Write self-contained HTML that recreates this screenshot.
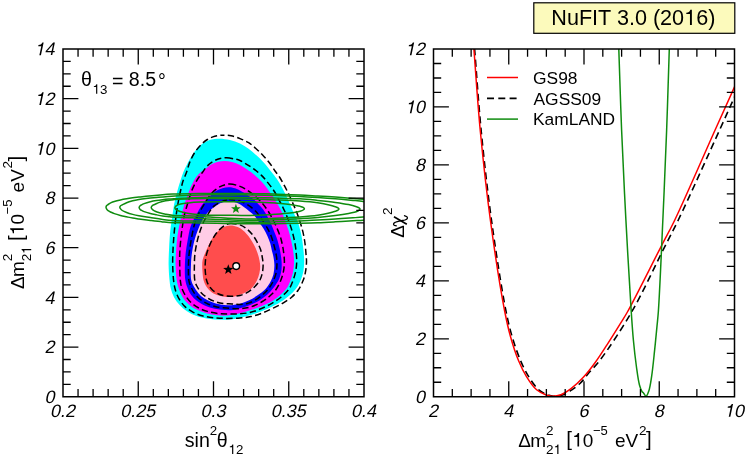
<!DOCTYPE html>
<html><head><meta charset="utf-8"><title>NuFIT 3.0 (2016)</title>
<style>html,body{margin:0;padding:0;background:#fff;}svg{display:block;}text{font-family:"Liberation Sans",sans-serif;fill:#000;}</style>
</head><body>
<svg width="747" height="456" viewBox="0 0 747 456" style="will-change:transform">
<rect x="0" y="0" width="747" height="456" fill="#fff"/>
<defs><clipPath id="cl"><rect x="63.00" y="49.00" width="301.00" height="347.75"/></clipPath>
<clipPath id="cr"><rect x="433.50" y="49.00" width="301.00" height="347.75"/></clipPath></defs>
<g clip-path="url(#cl)">
<path d="M219.50 138.70C222.93 138.69 226.50 139.31 229.90 140.10C233.33 140.90 236.84 142.04 240.00 143.50C243.07 144.92 245.91 146.76 248.60 148.70C251.27 150.63 253.63 152.83 256.10 155.10C258.67 157.46 261.22 159.89 263.70 162.60C266.36 165.50 269.20 169.12 271.50 172.00C273.40 174.38 274.95 176.21 276.60 178.60C278.42 181.23 280.28 184.30 281.90 187.20C283.48 190.03 284.80 192.83 286.20 195.80C287.67 198.92 289.07 202.27 290.50 205.50C291.93 208.73 293.44 212.12 294.80 215.20C296.03 217.99 297.37 220.55 298.30 223.20C299.17 225.68 299.70 228.13 300.30 230.60C300.90 233.03 301.47 235.46 301.90 237.90C302.33 240.32 302.60 242.76 302.90 245.20C303.20 247.63 303.49 249.94 303.70 252.50C303.93 255.34 304.24 258.45 304.20 261.50C304.16 264.67 303.98 268.07 303.40 271.20C302.83 274.23 301.95 277.19 300.80 280.00C299.65 282.79 298.13 285.67 296.50 288.00C295.03 290.10 293.55 291.64 291.60 293.50C289.21 295.79 286.12 298.38 283.00 300.50C279.72 302.73 275.92 304.70 272.30 306.50C268.75 308.26 265.12 309.77 261.50 311.20C257.95 312.60 254.40 313.90 250.80 315.00C247.23 316.09 243.45 317.05 240.00 317.80C236.88 318.48 234.15 319.06 231.00 319.40C227.58 319.77 223.88 319.90 220.20 319.80C216.35 319.69 212.31 319.33 208.40 318.70C204.45 318.07 200.27 317.31 196.60 316.00C193.13 314.76 189.82 313.14 186.90 311.20C184.11 309.34 181.58 307.08 179.40 304.70C177.30 302.40 175.43 299.89 174.00 297.20C172.57 294.52 171.55 291.51 170.80 288.60C170.07 285.77 169.84 283.29 169.50 280.00C169.04 275.60 168.68 269.58 168.60 264.50C168.53 259.59 168.81 254.67 169.00 250.00C169.18 245.63 169.38 241.36 169.70 237.30C169.99 233.55 170.35 230.09 170.80 226.50C171.25 222.92 171.87 219.38 172.40 215.80C172.93 212.21 173.27 208.78 174.00 205.00C174.82 200.73 176.07 195.72 177.20 191.50C178.21 187.71 179.32 184.18 180.40 180.80C181.39 177.71 182.27 174.75 183.40 172.00C184.45 169.45 185.57 167.36 186.90 164.80C188.47 161.79 190.40 158.01 192.30 155.10C193.99 152.51 195.72 150.13 197.60 148.10C199.31 146.25 201.02 144.63 203.00 143.30C204.98 141.97 207.03 140.86 209.50 140.10C212.41 139.20 216.13 138.71 219.50 138.70Z" fill="#00ffff"/>
<path d="M224.50 161.00C226.90 161.03 229.49 161.47 232.00 162.10C234.66 162.77 237.53 163.79 240.00 165.00C242.35 166.15 244.33 167.64 246.50 169.10C248.76 170.63 250.87 171.97 253.30 174.00C256.49 176.66 260.77 180.67 263.70 184.00C266.23 186.87 268.43 190.39 270.10 192.60C271.15 194.00 271.81 194.71 272.70 196.00C273.79 197.57 274.99 199.52 276.10 201.40C277.26 203.38 278.43 205.60 279.50 207.60C280.49 209.46 281.42 210.99 282.30 213.00C283.34 215.38 284.20 218.21 285.20 221.00C286.29 224.05 287.66 227.60 288.60 230.60C289.41 233.18 290.00 235.46 290.60 237.90C291.20 240.33 291.73 242.76 292.20 245.20C292.67 247.63 293.09 249.93 293.40 252.50C293.74 255.34 294.12 258.44 294.10 261.50C294.08 264.67 293.80 268.03 293.20 271.20C292.60 274.36 291.56 277.66 290.50 280.50C289.56 283.04 288.77 285.28 287.30 287.50C285.67 289.97 283.30 292.31 280.90 294.50C278.34 296.83 275.43 299.07 272.30 301.00C268.99 303.03 265.14 304.77 261.50 306.30C257.97 307.79 254.39 308.93 250.80 310.10C247.22 311.26 243.74 312.41 240.00 313.30C236.06 314.23 231.67 315.18 227.70 315.50C224.02 315.79 220.56 315.66 217.00 315.30C213.39 314.93 209.65 314.28 206.20 313.30C202.86 312.36 199.58 311.15 196.60 309.60C193.70 308.10 190.86 306.31 188.50 304.20C186.21 302.16 184.21 299.78 182.60 297.20C180.97 294.59 179.79 291.51 178.80 288.60C177.84 285.78 177.22 283.31 176.70 280.00C176.01 275.61 175.70 269.39 175.60 264.50C175.51 260.11 175.74 256.33 176.00 252.00C176.28 247.29 176.73 241.81 177.30 237.30C177.80 233.41 178.40 230.08 179.10 226.50C179.80 222.92 180.68 219.33 181.50 215.80C182.31 212.33 183.06 208.76 184.00 205.50C184.87 202.48 185.79 199.91 186.90 196.90C188.15 193.49 189.56 189.54 191.20 186.10C192.80 182.75 194.66 179.08 196.60 176.50C198.15 174.44 199.91 172.80 201.50 171.50C202.76 170.47 203.82 170.07 205.20 169.10C207.07 167.78 209.36 165.43 211.60 164.20C213.68 163.06 215.91 162.33 218.10 161.80C220.21 161.29 222.28 160.98 224.50 161.00Z" fill="#ff00ff"/>
<path d="M228.80 187.20C230.88 187.21 233.08 187.72 235.00 188.30C236.79 188.84 238.13 189.52 240.00 190.50C242.58 191.86 246.32 194.25 248.90 196.00C250.99 197.42 252.76 198.67 254.40 200.10C255.90 201.41 257.02 202.72 258.40 204.20C259.95 205.86 261.80 207.74 263.20 209.60C264.51 211.35 265.50 213.09 266.60 215.00C267.78 217.04 268.90 219.18 270.00 221.50C271.21 224.05 272.40 227.04 273.50 229.70C274.53 232.20 275.53 234.47 276.40 237.00C277.31 239.63 278.12 242.53 278.80 245.20C279.44 247.69 279.95 249.93 280.40 252.50C280.90 255.33 281.44 258.53 281.60 261.50C281.76 264.39 281.79 267.26 281.40 270.10C281.00 272.99 280.42 275.86 279.20 278.70C277.84 281.87 275.44 285.28 273.30 288.10C271.32 290.70 269.24 293.04 266.90 295.10C264.60 297.13 262.05 298.81 259.40 300.40C256.69 302.02 253.88 303.44 250.80 304.70C247.45 306.07 243.21 307.28 240.00 308.20C237.46 308.92 235.55 309.57 233.10 309.90C230.41 310.26 227.45 310.26 224.50 310.10C221.36 309.93 218.00 309.51 214.80 308.80C211.56 308.08 208.19 307.13 205.20 305.80C202.31 304.51 199.49 302.85 197.10 301.00C194.85 299.26 192.81 297.34 191.20 295.10C189.57 292.84 188.39 290.07 187.40 287.50C186.45 285.04 185.75 282.98 185.30 280.00C184.67 275.79 184.79 269.39 184.90 264.50C185.00 260.11 185.33 256.11 185.80 252.00C186.27 247.95 186.93 244.11 187.70 240.00C188.52 235.62 189.17 230.66 190.60 226.50C191.93 222.64 193.92 219.34 195.80 215.80C197.72 212.18 200.14 207.54 202.00 205.00C203.15 203.43 204.00 202.81 205.20 201.50C206.74 199.83 208.68 197.58 210.50 195.80C212.25 194.09 213.90 192.25 215.90 191.00C217.87 189.76 220.21 188.94 222.40 188.30C224.51 187.69 226.68 187.19 228.80 187.20Z" fill="#0000ff"/>
<path d="M228.40 201.50C230.89 201.44 233.61 201.72 236.00 202.50C238.41 203.28 240.59 204.74 242.80 206.20C245.14 207.75 247.49 209.82 249.60 211.60C251.53 213.22 253.36 214.55 255.00 216.40C256.75 218.38 258.18 221.04 259.70 223.20C261.10 225.19 262.54 226.83 263.80 228.90C265.16 231.14 266.41 233.74 267.50 236.20C268.57 238.61 269.56 241.04 270.30 243.50C271.02 245.91 271.35 248.45 271.90 250.80C272.42 253.01 273.09 254.89 273.50 257.20C273.97 259.84 274.42 262.93 274.40 265.80C274.38 268.67 274.07 271.71 273.40 274.40C272.77 276.92 271.83 279.17 270.60 281.50C269.26 284.04 267.61 286.72 265.50 289.00C263.22 291.46 260.07 293.67 257.20 295.60C254.43 297.46 251.52 299.04 248.60 300.40C245.78 301.72 243.10 302.89 240.00 303.70C236.56 304.59 232.29 305.21 228.80 305.30C225.75 305.37 223.04 305.04 220.20 304.50C217.31 303.95 214.32 303.06 211.60 302.00C208.97 300.98 206.35 299.84 204.10 298.30C201.90 296.79 199.91 294.89 198.20 292.90C196.52 290.95 195.08 288.70 193.90 286.50C192.77 284.40 191.76 282.70 191.20 280.00C190.38 276.00 190.85 269.16 191.00 264.50C191.12 260.66 191.30 257.70 191.80 254.00C192.37 249.77 193.33 244.60 194.40 240.50C195.32 236.97 196.37 234.00 197.60 230.80C198.86 227.54 200.22 224.14 201.90 221.10C203.53 218.15 205.31 215.21 207.50 212.80C209.63 210.46 212.38 208.53 214.80 206.80C216.98 205.25 219.00 203.68 221.30 202.80C223.54 201.94 225.99 201.56 228.40 201.50Z" fill="#ffcce6"/>
<path d="M230.20 225.40C232.62 225.37 235.45 226.07 237.70 227.00C239.82 227.88 241.59 229.17 243.40 230.70C245.41 232.40 247.38 234.65 249.10 236.90C250.86 239.21 252.41 241.77 253.80 244.40C255.22 247.09 256.52 250.06 257.50 252.90C258.43 255.60 259.15 258.55 259.60 261.00C259.97 263.00 260.21 264.57 260.20 266.50C260.19 268.65 259.92 271.03 259.40 273.30C258.85 275.70 258.08 278.15 256.90 280.50C255.61 283.06 253.71 286.04 251.80 288.00C250.18 289.66 248.41 290.69 246.50 291.80C244.49 292.97 242.23 293.98 240.00 294.80C237.77 295.62 235.55 296.37 233.10 296.70C230.41 297.06 227.25 296.99 224.50 296.70C221.90 296.43 219.34 296.01 217.00 295.10C214.68 294.20 212.38 292.91 210.50 291.30C208.61 289.68 206.89 287.41 205.70 285.40C204.66 283.64 204.03 282.02 203.50 280.00C202.88 277.63 202.72 274.58 202.50 272.00C202.30 269.59 202.16 267.14 202.20 265.00C202.23 263.19 202.21 261.78 202.60 260.00C203.08 257.81 204.20 255.36 205.20 252.90C206.31 250.18 207.64 247.12 209.00 244.40C210.31 241.79 211.65 239.17 213.20 236.90C214.64 234.80 216.14 232.86 217.90 231.20C219.62 229.57 221.53 227.97 223.60 227.00C225.63 226.05 227.93 225.43 230.20 225.40Z" fill="#ff4d4d"/>
<path d="M222.40 135.20C225.17 135.10 228.13 135.26 231.00 135.80C234.00 136.36 237.07 137.45 240.00 138.60C242.94 139.75 245.92 141.02 248.60 142.70C251.29 144.39 253.65 146.52 256.10 148.70C258.69 151.00 261.33 153.65 263.70 156.20C265.98 158.65 268.15 161.15 270.10 163.70C271.97 166.15 273.52 168.82 275.20 171.20C276.75 173.41 278.28 175.12 279.80 177.50C281.62 180.34 283.53 184.05 285.20 187.20C286.75 190.14 288.10 192.83 289.50 195.80C290.97 198.92 292.48 202.47 293.80 205.50C294.96 208.16 295.95 210.23 297.00 213.00C298.26 216.32 299.67 220.78 300.70 224.10C301.53 226.78 302.19 228.89 302.80 231.40C303.43 234.02 303.96 236.86 304.40 239.50C304.82 241.99 305.13 244.36 305.40 246.80C305.67 249.23 305.82 251.66 306.00 254.10C306.18 256.56 306.53 258.87 306.50 261.50C306.46 264.52 306.14 268.08 305.60 271.20C305.08 274.17 304.51 276.86 303.40 279.80C302.13 283.17 300.20 287.20 298.10 290.20C296.20 292.91 294.05 295.09 291.60 297.20C289.04 299.41 286.09 301.27 283.00 303.10C279.69 305.06 275.90 306.79 272.30 308.50C268.73 310.19 265.13 311.94 261.50 313.30C257.96 314.63 254.41 315.82 250.80 316.60C247.24 317.37 243.93 317.70 240.00 318.00C235.31 318.36 229.19 318.47 224.50 318.40C220.60 318.34 217.36 318.20 213.80 317.80C210.20 317.40 206.46 316.94 203.00 316.00C199.63 315.09 196.30 313.86 193.30 312.30C190.41 310.80 187.62 309.06 185.30 306.90C182.99 304.75 181.02 302.09 179.40 299.40C177.79 296.73 176.54 293.72 175.60 290.80C174.69 287.98 174.26 285.60 173.80 282.20C173.15 277.37 172.82 270.11 172.70 264.50C172.60 259.43 172.80 254.67 173.00 250.00C173.18 245.62 173.48 241.36 173.80 237.30C174.09 233.55 174.42 230.09 174.80 226.50C175.18 222.92 175.62 219.37 176.10 215.80C176.58 212.21 177.04 208.79 177.70 205.00C178.44 200.74 179.44 195.73 180.40 191.50C181.26 187.72 182.01 184.16 183.10 180.80C184.11 177.69 185.53 175.00 186.60 172.00C187.70 168.94 188.34 165.70 189.60 162.60C190.92 159.37 192.50 155.97 194.40 153.00C196.27 150.08 198.62 147.23 200.90 144.90C202.94 142.80 204.97 140.94 207.30 139.50C209.60 138.08 212.24 137.02 214.80 136.30C217.28 135.60 219.78 135.30 222.40 135.20Z" fill="none" stroke="#000" stroke-width="1.50" stroke-dasharray="6.4 3.3" stroke-dashoffset="4.30"/>
<path d="M226.70 157.80C229.11 157.85 231.87 158.41 234.20 158.90C236.27 159.34 238.00 159.67 240.00 160.50C242.40 161.50 245.11 163.33 247.50 164.80C249.77 166.20 251.80 167.46 254.00 169.10C256.46 170.94 259.17 173.11 261.50 175.40C263.84 177.71 265.89 180.27 268.00 182.90C270.19 185.63 272.73 188.84 274.40 191.50C275.72 193.60 276.34 195.24 277.50 197.40C278.92 200.05 280.90 203.44 282.30 206.20C283.51 208.59 284.40 210.44 285.50 213.00C286.88 216.23 288.61 220.77 289.80 224.10C290.76 226.77 291.48 228.89 292.20 231.40C292.95 234.02 293.64 236.86 294.20 239.50C294.73 241.99 295.15 244.36 295.50 246.80C295.85 249.23 296.10 251.66 296.30 254.10C296.50 256.56 296.76 258.87 296.70 261.50C296.63 264.52 296.32 268.03 295.70 271.20C295.08 274.36 294.13 277.51 293.00 280.50C291.89 283.44 290.86 286.34 289.00 289.00C286.94 291.95 283.76 294.81 280.90 297.20C278.18 299.48 275.40 301.27 272.30 303.10C268.97 305.06 265.14 306.95 261.50 308.50C257.97 310.00 254.42 311.42 250.80 312.30C247.25 313.17 243.64 313.53 240.00 313.80C236.31 314.07 232.49 313.95 228.80 313.90C225.19 313.85 221.66 313.91 218.10 313.50C214.49 313.08 210.65 312.38 207.30 311.40C204.23 310.50 201.38 309.47 198.70 308.00C196.02 306.53 193.38 304.64 191.20 302.60C189.11 300.65 187.33 298.44 185.80 296.10C184.27 293.77 182.90 291.16 182.00 288.60C181.14 286.15 180.78 284.11 180.40 281.10C179.84 276.67 179.79 269.64 179.70 264.50C179.62 260.04 179.61 256.33 179.80 252.00C180.01 247.29 180.52 241.82 181.00 237.30C181.41 233.42 181.87 230.09 182.40 226.50C182.93 222.92 183.46 219.18 184.20 215.80C184.88 212.71 185.78 209.86 186.60 207.00C187.38 204.26 188.11 201.78 189.00 199.00C189.99 195.94 191.01 192.47 192.30 189.40C193.55 186.41 194.94 183.60 196.60 180.80C198.32 177.90 200.61 174.92 202.50 172.30C204.16 170.00 205.43 167.78 207.30 165.90C209.19 164.01 211.55 162.25 213.80 161.00C215.86 159.85 218.02 159.03 220.20 158.50C222.32 157.98 224.46 157.76 226.70 157.80Z" fill="none" stroke="#000" stroke-width="1.50" stroke-dasharray="6.4 3.3" stroke-dashoffset="0.00"/>
<path d="M229.90 184.00C233.02 184.04 236.95 185.25 240.00 186.40C242.76 187.44 245.01 188.80 247.50 190.40C250.25 192.17 253.16 194.47 255.70 196.70C258.15 198.85 260.44 201.09 262.50 203.50C264.53 205.87 266.30 208.40 268.00 211.00C269.70 213.60 271.41 216.71 272.70 219.10C273.70 220.95 274.37 222.31 275.20 224.10C276.14 226.11 277.13 228.43 278.00 230.60C278.86 232.73 279.71 234.84 280.40 237.00C281.08 239.14 281.62 241.32 282.10 243.50C282.58 245.66 282.95 247.52 283.30 250.00C283.76 253.28 284.39 257.83 284.40 261.50C284.40 264.87 284.12 268.03 283.50 271.20C282.88 274.36 281.97 277.43 280.70 280.50C279.35 283.77 277.57 287.42 275.50 290.20C273.61 292.74 271.33 294.73 269.00 296.70C266.67 298.67 264.31 300.39 261.50 302.00C258.32 303.83 254.45 305.80 250.80 306.90C247.28 307.96 243.80 308.39 240.00 308.60C235.81 308.83 230.78 308.32 226.70 308.00C223.21 307.72 220.11 307.56 217.00 306.90C214.02 306.27 211.11 305.38 208.40 304.20C205.75 303.04 203.16 301.62 200.90 299.90C198.67 298.21 196.54 296.14 194.90 294.00C193.35 291.99 192.20 289.71 191.20 287.50C190.25 285.40 189.49 283.78 189.00 281.10C188.23 276.90 188.41 269.64 188.50 264.50C188.58 260.04 188.84 256.11 189.30 252.00C189.75 247.95 190.46 244.11 191.20 240.00C191.98 235.62 192.76 230.70 193.90 226.50C194.93 222.69 196.31 218.70 197.60 215.80C198.54 213.68 199.47 212.30 200.50 210.50C201.59 208.60 202.70 206.84 204.00 204.70C205.62 202.05 207.43 198.42 209.50 195.80C211.43 193.37 213.64 191.14 215.90 189.40C217.96 187.81 220.08 186.50 222.40 185.60C224.74 184.69 227.22 183.97 229.90 184.00Z" fill="none" stroke="#000" stroke-width="1.50" stroke-dasharray="6.4 3.3" stroke-dashoffset="0.00"/>
<path d="M228.80 199.60C231.28 199.34 233.55 199.81 236.00 200.30C238.67 200.83 242.00 201.82 244.20 202.80C245.82 203.52 246.88 204.32 248.20 205.20C249.58 206.12 251.02 207.16 252.30 208.20C253.51 209.19 254.56 210.09 255.70 211.30C257.06 212.75 258.38 214.45 259.80 216.40C261.58 218.84 263.81 222.33 265.40 224.90C266.68 226.97 267.70 228.62 268.70 230.60C269.73 232.64 270.70 234.84 271.50 237.00C272.29 239.14 272.88 241.33 273.50 243.50C274.11 245.66 274.69 247.77 275.20 250.00C275.73 252.33 276.31 254.68 276.60 257.20C276.91 259.93 277.02 263.04 276.90 265.80C276.79 268.39 276.58 270.82 276.00 273.30C275.40 275.86 274.35 278.60 273.30 280.90C272.36 282.95 271.41 284.63 270.10 286.50C268.61 288.63 266.76 290.91 264.70 292.90C262.50 295.03 259.88 297.10 257.20 298.80C254.51 300.50 251.54 302.15 248.60 303.10C245.80 304.00 242.82 304.38 240.00 304.50C237.29 304.62 234.72 304.08 232.00 303.90C229.19 303.71 226.25 303.80 223.40 303.40C220.52 303.00 217.51 302.47 214.80 301.50C212.15 300.55 209.58 299.18 207.30 297.70C205.13 296.29 203.10 294.76 201.40 292.90C199.69 291.03 198.22 288.60 197.10 286.50C196.13 284.67 195.40 283.45 194.90 281.10C194.06 277.13 194.36 269.40 194.40 264.50C194.43 260.60 194.49 257.63 194.90 254.00C195.35 250.02 196.22 245.46 197.10 241.60C197.88 238.15 198.79 235.02 199.80 231.90C200.77 228.93 201.66 226.20 203.00 223.30C204.47 220.11 206.51 216.58 208.40 213.60C210.12 210.89 211.70 208.03 213.80 206.10C215.69 204.37 217.84 203.35 220.20 202.30C222.79 201.14 226.03 199.89 228.80 199.60Z" fill="none" stroke="#000" stroke-width="1.50" stroke-dasharray="6.4 3.3" stroke-dashoffset="0.00"/>
<path d="M230.20 223.50C233.12 223.23 237.74 224.08 240.60 225.10C242.84 225.90 244.41 227.02 246.20 228.40C248.19 229.93 250.19 231.92 251.90 234.00C253.67 236.14 255.19 238.61 256.60 241.10C258.03 243.64 259.43 246.26 260.40 249.10C261.42 252.08 262.05 255.64 262.50 258.60C262.89 261.15 263.16 263.30 263.10 265.80C263.04 268.54 262.68 271.76 262.00 274.40C261.39 276.79 260.68 278.89 259.40 281.00C257.96 283.38 255.67 285.80 253.50 287.80C251.37 289.76 248.88 291.61 246.50 292.90C244.37 294.06 242.14 294.87 240.00 295.40C238.04 295.89 236.33 296.00 234.20 296.10C231.62 296.23 228.30 296.29 225.60 295.90C223.12 295.54 220.76 294.96 218.60 294.00C216.47 293.05 214.40 291.74 212.70 290.20C211.01 288.67 209.46 286.63 208.40 284.80C207.49 283.22 207.00 281.93 206.50 280.00C205.80 277.31 205.38 272.84 205.20 270.00C205.06 267.90 205.12 266.44 205.20 264.50C205.29 262.33 205.41 259.86 205.80 257.60C206.18 255.36 206.78 253.25 207.50 251.00C208.28 248.56 209.28 245.93 210.40 243.50C211.52 241.07 212.76 238.62 214.20 236.40C215.60 234.23 217.16 232.13 218.90 230.30C220.60 228.51 222.51 226.65 224.50 225.50C226.30 224.46 227.99 223.71 230.20 223.50Z" fill="none" stroke="#000" stroke-width="1.50" stroke-dasharray="6.4 3.3" stroke-dashoffset="0.00"/>
<path d="M106.00 207.30C106.00 206.70 106.33 205.97 106.70 205.50C107.05 205.05 107.53 204.87 108.10 204.50C108.92 203.97 110.15 203.21 111.20 202.70C112.21 202.21 113.08 201.89 114.30 201.50C115.98 200.96 118.35 200.37 120.40 199.90C122.45 199.43 124.54 199.05 126.60 198.70C128.64 198.35 130.66 198.07 132.70 197.80C134.76 197.53 136.76 197.34 138.90 197.10C141.19 196.84 143.34 196.58 146.00 196.30C149.41 195.95 153.54 195.55 157.70 195.20C162.46 194.81 167.18 194.37 173.00 194.10C180.73 193.74 191.17 193.62 200.00 193.50C208.49 193.39 216.67 193.38 225.00 193.40C233.33 193.42 241.67 193.48 250.00 193.60C258.33 193.72 266.67 193.88 275.00 194.10C283.33 194.32 292.39 194.54 300.00 194.90C306.41 195.20 311.81 195.63 317.70 196.00C323.58 196.37 329.43 196.70 335.30 197.10C341.19 197.50 347.91 197.99 353.00 198.40C356.87 198.71 359.38 198.90 363.20 199.30C368.11 199.81 374.58 200.40 380.00 201.30C385.16 202.16 391.09 202.71 395.00 204.50C397.96 205.85 402.01 208.05 402.00 209.80C401.99 211.55 397.95 213.67 395.00 215.00C391.09 216.77 385.16 217.34 380.00 218.20C374.58 219.10 368.11 219.79 363.20 220.20C359.38 220.52 356.86 220.49 353.00 220.70C347.91 220.98 341.19 221.47 335.30 221.80C329.43 222.13 323.58 222.47 317.70 222.70C311.81 222.93 306.41 223.05 300.00 223.20C292.38 223.38 283.33 223.60 275.00 223.70C266.67 223.80 258.33 223.85 250.00 223.80C241.67 223.75 233.33 223.55 225.00 223.40C216.67 223.25 208.49 223.02 200.00 222.90C191.17 222.78 179.89 222.99 173.00 222.70C168.72 222.52 166.21 222.24 162.60 221.90C158.67 221.53 154.32 220.99 150.30 220.50C146.43 220.02 142.12 219.45 138.90 219.00C136.52 218.67 134.75 218.47 132.70 218.10C130.65 217.73 128.64 217.25 126.60 216.80C124.54 216.35 122.45 215.93 120.40 215.40C118.35 214.87 115.98 214.20 114.30 213.60C113.08 213.17 112.22 212.78 111.20 212.30C110.16 211.81 108.89 211.32 108.10 210.70C107.48 210.22 107.05 209.68 106.70 209.10C106.36 208.54 106.00 207.90 106.00 207.30Z" fill="none" stroke="#0f8c0f" stroke-width="1.50"/>
<path d="M119.80 207.30C119.80 206.77 120.20 206.11 120.60 205.70C121.02 205.27 121.60 205.16 122.30 204.80C123.40 204.24 125.01 203.32 126.60 202.70C128.43 201.98 130.65 201.37 132.70 200.85C134.75 200.33 136.76 199.97 138.90 199.60C141.18 199.21 143.41 198.92 146.00 198.60C149.13 198.21 152.44 197.88 156.40 197.50C161.68 196.99 168.26 196.32 174.90 195.90C182.62 195.41 191.64 195.07 200.00 194.90C208.34 194.73 216.67 194.90 225.00 194.90C233.33 194.90 241.67 194.82 250.00 194.90C258.33 194.98 266.67 195.15 275.00 195.40C283.33 195.65 292.39 196.01 300.00 196.40C306.41 196.73 311.81 197.10 317.70 197.50C323.58 197.90 329.43 198.32 335.30 198.80C341.19 199.28 347.91 199.90 353.00 200.40C356.87 200.78 359.68 201.01 363.20 201.50C367.00 202.03 371.48 202.61 375.00 203.50C377.96 204.24 381.08 204.94 383.00 206.20C384.39 207.11 386.03 208.44 386.00 209.50C385.98 210.54 384.37 211.67 383.00 212.50C381.07 213.67 377.95 214.30 375.00 215.00C371.47 215.83 367.00 216.43 363.20 216.90C359.68 217.34 356.87 217.50 353.00 217.80C347.91 218.20 341.19 218.63 335.30 219.00C329.43 219.37 323.58 219.68 317.70 220.00C311.81 220.32 306.41 220.62 300.00 220.90C292.39 221.23 283.33 221.57 275.00 221.80C266.67 222.03 258.33 222.35 250.00 222.30C241.67 222.25 233.33 221.70 225.00 221.50C216.67 221.30 208.54 221.26 200.00 221.10C191.03 220.93 179.26 220.94 172.40 220.50C168.30 220.24 166.05 219.89 162.60 219.45C158.73 218.95 154.32 218.22 150.30 217.60C146.43 217.00 142.12 216.42 138.90 215.80C136.51 215.34 134.75 214.95 132.70 214.40C130.65 213.85 128.43 213.21 126.60 212.50C125.02 211.89 123.37 211.22 122.30 210.50C121.55 209.99 121.03 209.47 120.60 208.90C120.23 208.40 119.80 207.83 119.80 207.30Z" fill="none" stroke="#0f8c0f" stroke-width="1.50"/>
<path d="M139.10 207.60C139.10 207.00 139.66 206.27 140.10 205.80C140.51 205.36 141.02 205.13 141.60 204.80C142.32 204.39 143.06 204.01 144.10 203.60C145.69 202.98 148.23 202.22 150.30 201.70C152.33 201.19 154.35 200.83 156.40 200.50C158.45 200.17 160.54 199.93 162.60 199.70C164.64 199.47 166.66 199.27 168.70 199.10C170.76 198.93 172.31 198.85 174.90 198.70C179.25 198.45 186.56 198.03 192.40 197.80C198.26 197.57 204.37 197.38 210.00 197.30C215.20 197.23 219.36 197.28 225.00 197.30C232.27 197.33 241.67 197.38 250.00 197.50C258.33 197.62 266.67 197.78 275.00 198.00C283.33 198.22 292.39 198.33 300.00 198.80C306.41 199.19 311.81 199.80 317.70 200.40C323.58 201.00 329.85 201.64 335.30 202.40C340.05 203.06 344.76 203.75 348.60 204.60C351.59 205.26 354.59 206.15 356.50 206.80C357.62 207.18 358.47 207.40 359.10 207.85C359.56 208.18 360.10 208.62 360.10 209.00C360.10 209.38 359.51 209.80 359.10 210.15C358.63 210.55 358.23 210.85 357.40 211.20C355.64 211.94 351.85 212.73 348.60 213.40C344.64 214.22 340.05 214.94 335.30 215.60C329.85 216.36 323.58 217.08 317.70 217.60C311.81 218.12 306.41 218.36 300.00 218.70C292.39 219.10 283.33 219.50 275.00 219.80C266.67 220.10 258.33 220.53 250.00 220.50C241.67 220.47 233.33 219.93 225.00 219.60C216.67 219.27 205.92 218.90 200.00 218.50C196.73 218.28 195.54 218.00 192.40 217.80C187.32 217.48 176.41 217.39 172.40 217.10C170.67 216.98 170.09 216.86 168.70 216.70C166.92 216.49 164.64 216.26 162.60 215.95C160.54 215.63 158.46 215.21 156.40 214.80C154.36 214.39 152.33 214.02 150.30 213.50C148.23 212.97 145.68 212.28 144.10 211.65C143.06 211.24 142.32 210.82 141.60 210.40C141.02 210.07 140.51 209.84 140.10 209.40C139.66 208.93 139.10 208.20 139.10 207.60Z" fill="none" stroke="#0f8c0f" stroke-width="1.50"/>
<path d="M151.20 207.60C151.20 207.02 151.78 206.30 152.20 205.85C152.57 205.45 153.02 205.22 153.50 204.95C154.02 204.66 154.50 204.50 155.20 204.20C156.30 203.73 157.92 202.93 159.50 202.40C161.34 201.78 163.55 201.22 165.60 200.80C167.65 200.38 170.09 200.11 171.80 199.90C173.01 199.75 173.44 199.70 174.90 199.60C178.35 199.35 186.56 198.97 192.40 198.80C198.26 198.63 204.37 198.59 210.00 198.60C215.20 198.61 219.36 198.72 225.00 198.80C232.27 198.91 241.67 199.02 250.00 199.20C258.33 199.38 266.67 199.60 275.00 199.90C283.33 200.20 292.39 200.45 300.00 201.00C306.42 201.47 312.45 202.03 317.70 202.80C321.96 203.42 325.99 204.22 329.20 205.00C331.57 205.57 333.68 206.25 335.30 206.80C336.39 207.17 337.36 207.40 338.00 207.85C338.47 208.18 339.00 208.62 339.00 209.00C339.00 209.38 338.47 209.82 338.00 210.15C337.36 210.60 336.39 210.83 335.30 211.20C333.68 211.75 331.57 212.43 329.20 213.00C325.99 213.78 321.96 214.59 317.70 215.20C312.45 215.95 306.41 216.43 300.00 216.90C292.39 217.46 283.34 217.85 275.00 218.20C266.67 218.55 258.33 219.03 250.00 219.00C241.67 218.97 232.27 218.39 225.00 218.00C219.36 217.70 215.20 217.34 210.00 217.00C204.37 216.64 198.46 216.18 192.40 215.90C185.95 215.60 177.30 215.77 172.40 215.30C169.53 215.03 167.80 214.65 165.60 214.20C163.50 213.77 161.34 213.25 159.50 212.70C157.93 212.23 156.29 211.69 155.20 211.20C154.49 210.88 154.02 210.58 153.50 210.25C153.03 209.96 152.57 209.75 152.20 209.35C151.78 208.90 151.20 208.18 151.20 207.60Z" fill="none" stroke="#0f8c0f" stroke-width="1.50"/>
<path d="M174.90 207.80C174.90 207.33 175.27 206.80 175.60 206.40C175.93 205.99 176.32 205.72 176.90 205.40C177.81 204.90 179.19 204.38 180.70 204.00C182.80 203.47 185.57 203.20 188.40 202.90C191.87 202.53 195.40 202.29 200.00 202.10C206.75 201.83 216.67 201.85 225.00 201.80C233.33 201.75 241.67 201.60 250.00 201.80C258.34 202.00 267.73 202.46 275.00 203.00C280.64 203.42 285.52 203.87 290.00 204.50C293.68 205.01 297.61 205.68 300.00 206.30C301.38 206.66 302.43 206.90 303.20 207.40C303.76 207.76 304.40 208.27 304.40 208.70C304.40 209.13 303.75 209.63 303.20 210.00C302.43 210.52 301.38 210.82 300.00 211.20C297.61 211.86 293.68 212.51 290.00 213.00C285.52 213.60 280.64 213.92 275.00 214.30C267.73 214.79 258.34 215.35 250.00 215.50C241.67 215.65 231.65 215.21 225.00 215.20C220.59 215.19 217.51 215.34 214.00 215.30C210.77 215.26 207.47 215.16 204.70 215.00C202.45 214.87 200.64 214.68 198.60 214.50C196.54 214.32 194.46 214.15 192.40 213.90C190.36 213.65 188.33 213.39 186.30 213.00C184.23 212.60 181.81 212.05 180.10 211.50C178.84 211.09 177.71 210.66 176.90 210.20C176.34 209.88 175.93 209.61 175.60 209.20C175.27 208.80 174.90 208.27 174.90 207.80Z" fill="none" stroke="#0f8c0f" stroke-width="1.50"/>
</g>
<polygon points="235.90,203.80 237.16,207.17 240.75,207.32 237.94,209.56 238.90,213.03 235.90,211.04 232.90,213.03 233.86,209.56 231.05,207.32 234.64,207.17" fill="#0f8c0f"/>
<polygon points="228.30,264.20 229.63,267.77 233.44,267.93 230.46,270.30 231.47,273.97 228.30,271.87 225.13,273.97 226.14,270.30 223.16,267.93 226.97,267.77" fill="#000"/>
<circle cx="236.20" cy="266.10" r="3.35" fill="#fff" stroke="#000" stroke-width="1.40"/>
<g clip-path="url(#cr)">
<path d="M471.10 5.00C472.27 19.67 473.24 32.03 474.60 49.00C476.47 72.31 478.54 103.87 481.30 132.00C484.16 161.17 487.51 191.29 491.60 221.00C495.72 250.96 501.82 290.29 505.95 311.00C508.15 322.04 509.57 327.94 512.00 336.20C514.42 344.44 517.43 353.32 520.50 360.50C523.07 366.51 525.57 371.63 528.70 376.60C531.70 381.37 535.20 386.65 538.80 389.80C541.63 392.27 544.98 393.84 547.70 394.90C549.77 395.71 551.35 396.11 553.50 396.20C556.16 396.32 559.54 395.98 562.50 395.00C565.78 393.91 569.21 391.58 572.20 389.60C575.02 387.73 577.37 386.04 580.00 383.50C583.29 380.32 586.65 375.51 590.00 371.60C593.31 367.74 595.96 365.51 600.00 360.20C607.87 349.86 621.44 329.55 631.60 312.00C643.00 292.31 655.77 264.28 664.40 247.30C670.01 236.26 672.59 231.81 678.30 220.00C688.57 198.76 709.33 152.53 719.60 130.00C725.76 116.48 729.78 107.45 734.30 97.50C738.14 89.03 741.43 81.83 745.00 74.00" fill="none" stroke="#000" stroke-width="1.60" stroke-dasharray="7 4.3" stroke-dashoffset="1.40"/>
<path d="M470.50 5.00C471.63 19.67 472.58 32.03 473.90 49.00C475.71 72.31 477.70 103.87 480.40 132.00C483.20 161.17 486.48 191.29 490.50 221.00C494.55 250.96 500.66 290.28 504.65 311.00C506.77 322.03 508.08 327.93 510.40 336.20C512.70 344.43 515.54 353.32 518.50 360.50C520.98 366.51 523.41 371.64 526.50 376.60C529.47 381.37 532.97 386.68 536.60 389.80C539.47 392.27 542.90 393.73 545.70 394.80C547.87 395.63 549.56 396.12 551.80 396.20C554.52 396.30 557.89 395.89 560.90 394.80C564.30 393.57 567.61 391.24 571.00 388.70C575.00 385.70 579.22 381.75 583.10 377.60C587.31 373.10 591.28 367.86 595.20 362.50C599.36 356.80 603.30 350.47 607.30 344.30C611.37 338.01 615.80 330.90 619.40 325.10C622.36 320.33 623.97 318.11 627.40 312.00C634.87 298.70 651.94 264.28 660.70 247.30C666.39 236.26 669.10 231.84 674.80 220.00C685.02 198.79 704.12 154.45 715.10 130.00C722.66 113.17 728.81 99.48 734.30 87.40C738.37 78.43 741.43 71.80 745.00 64.00" fill="none" stroke="#ff0000" stroke-width="1.50"/>
<path d="M617.00 5.00C617.60 19.67 618.16 32.11 618.80 49.00C619.66 71.91 620.46 102.29 621.60 130.00C622.80 159.21 624.31 189.92 625.90 220.00C627.50 250.25 629.74 289.04 631.20 311.00C632.03 323.47 632.50 330.81 633.40 340.30C634.25 349.29 635.29 358.57 636.40 366.50C637.33 373.13 638.15 380.10 639.40 384.70C640.20 387.63 641.17 390.39 642.10 391.70C642.56 392.35 642.99 392.37 643.50 392.90C644.27 393.70 645.28 396.28 646.10 396.20C647.10 396.10 648.10 393.03 648.90 390.70C650.12 387.15 650.77 382.04 651.60 376.60C652.73 369.23 653.69 358.97 654.60 350.40C655.48 342.15 656.32 333.24 657.00 326.10C657.54 320.47 657.89 318.15 658.40 311.00C659.63 293.57 661.43 251.00 662.80 221.00C664.17 191.00 665.50 160.30 666.60 131.00C667.65 103.03 668.53 72.11 669.30 49.00C669.87 32.07 670.30 19.67 670.80 5.00" fill="none" stroke="#0f8c0f" stroke-width="1.50"/>
</g>
<path d="M78.05 396.75v-7.70M78.05 49.00v7.70M93.10 396.75v-7.70M93.10 49.00v7.70M108.15 396.75v-7.70M108.15 49.00v7.70M123.20 396.75v-7.70M123.20 49.00v7.70M138.25 396.75v-15.40M138.25 49.00v15.40M153.30 396.75v-7.70M153.30 49.00v7.70M168.35 396.75v-7.70M168.35 49.00v7.70M183.40 396.75v-7.70M183.40 49.00v7.70M198.45 396.75v-7.70M198.45 49.00v7.70M213.50 396.75v-15.40M213.50 49.00v15.40M228.55 396.75v-7.70M228.55 49.00v7.70M243.60 396.75v-7.70M243.60 49.00v7.70M258.65 396.75v-7.70M258.65 49.00v7.70M273.70 396.75v-7.70M273.70 49.00v7.70M288.75 396.75v-15.40M288.75 49.00v15.40M303.80 396.75v-7.70M303.80 49.00v7.70M318.85 396.75v-7.70M318.85 49.00v7.70M333.90 396.75v-7.70M333.90 49.00v7.70M348.95 396.75v-7.70M348.95 49.00v7.70M63.00 384.33h7.70M364.00 384.33h-7.70M63.00 371.91h7.70M364.00 371.91h-7.70M63.00 359.49h7.70M364.00 359.49h-7.70M63.00 347.07h15.40M364.00 347.07h-15.40M63.00 334.65h7.70M364.00 334.65h-7.70M63.00 322.23h7.70M364.00 322.23h-7.70M63.00 309.81h7.70M364.00 309.81h-7.70M63.00 297.39h15.40M364.00 297.39h-15.40M63.00 284.97h7.70M364.00 284.97h-7.70M63.00 272.55h7.70M364.00 272.55h-7.70M63.00 260.13h7.70M364.00 260.13h-7.70M63.00 247.71h15.40M364.00 247.71h-15.40M63.00 235.29h7.70M364.00 235.29h-7.70M63.00 222.88h7.70M364.00 222.88h-7.70M63.00 210.46h7.70M364.00 210.46h-7.70M63.00 198.04h15.40M364.00 198.04h-15.40M63.00 185.62h7.70M364.00 185.62h-7.70M63.00 173.20h7.70M364.00 173.20h-7.70M63.00 160.78h7.70M364.00 160.78h-7.70M63.00 148.36h15.40M364.00 148.36h-15.40M63.00 135.94h7.70M364.00 135.94h-7.70M63.00 123.52h7.70M364.00 123.52h-7.70M63.00 111.10h7.70M364.00 111.10h-7.70M63.00 98.68h15.40M364.00 98.68h-15.40M63.00 86.26h7.70M364.00 86.26h-7.70M63.00 73.84h7.70M364.00 73.84h-7.70M63.00 61.42h7.70M364.00 61.42h-7.70" fill="none" stroke="#000" stroke-width="1.30"/>
<path d="M452.31 396.75v-7.70M452.31 49.00v7.70M471.12 396.75v-7.70M471.12 49.00v7.70M489.94 396.75v-7.70M489.94 49.00v7.70M508.75 396.75v-15.40M508.75 49.00v15.40M527.56 396.75v-7.70M527.56 49.00v7.70M546.38 396.75v-7.70M546.38 49.00v7.70M565.19 396.75v-7.70M565.19 49.00v7.70M584.00 396.75v-15.40M584.00 49.00v15.40M602.81 396.75v-7.70M602.81 49.00v7.70M621.62 396.75v-7.70M621.62 49.00v7.70M640.44 396.75v-7.70M640.44 49.00v7.70M659.25 396.75v-15.40M659.25 49.00v15.40M678.06 396.75v-7.70M678.06 49.00v7.70M696.88 396.75v-7.70M696.88 49.00v7.70M715.69 396.75v-7.70M715.69 49.00v7.70M433.50 382.26h7.70M734.50 382.26h-7.70M433.50 367.77h7.70M734.50 367.77h-7.70M433.50 353.28h7.70M734.50 353.28h-7.70M433.50 338.79h15.40M734.50 338.79h-15.40M433.50 324.30h7.70M734.50 324.30h-7.70M433.50 309.81h7.70M734.50 309.81h-7.70M433.50 295.32h7.70M734.50 295.32h-7.70M433.50 280.83h15.40M734.50 280.83h-15.40M433.50 266.34h7.70M734.50 266.34h-7.70M433.50 251.85h7.70M734.50 251.85h-7.70M433.50 237.36h7.70M734.50 237.36h-7.70M433.50 222.88h15.40M734.50 222.88h-15.40M433.50 208.39h7.70M734.50 208.39h-7.70M433.50 193.90h7.70M734.50 193.90h-7.70M433.50 179.41h7.70M734.50 179.41h-7.70M433.50 164.92h15.40M734.50 164.92h-15.40M433.50 150.43h7.70M734.50 150.43h-7.70M433.50 135.94h7.70M734.50 135.94h-7.70M433.50 121.45h7.70M734.50 121.45h-7.70M433.50 106.96h15.40M734.50 106.96h-15.40M433.50 92.47h7.70M734.50 92.47h-7.70M433.50 77.98h7.70M734.50 77.98h-7.70M433.50 63.49h7.70M734.50 63.49h-7.70" fill="none" stroke="#000" stroke-width="1.30"/>
<rect x="63.00" y="49.00" width="301.00" height="347.75" fill="none" stroke="#000" stroke-width="1.50"/>
<rect x="433.50" y="49.00" width="301.00" height="347.75" fill="none" stroke="#000" stroke-width="1.50"/>
<g font-size="18.00">
<g transform="translate(49.88 416.80) skewX(-12.0)" font-size="18.00"><text x="0.00" y="0">0.2</text></g>
<g transform="translate(120.13 416.80) skewX(-12.0)" font-size="18.00"><text x="0.00" y="0">0.25</text></g>
<g transform="translate(200.38 416.80) skewX(-12.0)" font-size="18.00"><text x="0.00" y="0">0.3</text></g>
<g transform="translate(270.63 416.80) skewX(-12.0)" font-size="18.00"><text x="0.00" y="0">0.35</text></g>
<g transform="translate(350.88 416.80) skewX(-12.0)" font-size="18.00"><text x="0.00" y="0">0.4</text></g>
<g transform="translate(427.89 416.80) skewX(-12.0)" font-size="18.00"><text x="0.00" y="0">2</text></g>
<g transform="translate(503.14 416.80) skewX(-12.0)" font-size="18.00"><text x="0.00" y="0">4</text></g>
<g transform="translate(578.39 416.80) skewX(-12.0)" font-size="18.00"><text x="0.00" y="0">6</text></g>
<g transform="translate(653.64 416.80) skewX(-12.0)" font-size="18.00"><text x="0.00" y="0">8</text></g>
<g transform="translate(723.88 416.80) skewX(-12.0)" font-size="18.00"><path transform="translate(0.00 0) scale(0.01800 -0.01800)" d="M359 0L271 0L271 505L102 505L102 568C214 582 247 600 289 709L359 709Z"/><text x="10.00" y="0">0</text></g>
<g transform="translate(44.48 403.05) skewX(-12.0)" font-size="18.00"><text x="0.00" y="0">0</text></g>
<g transform="translate(44.48 353.37) skewX(-12.0)" font-size="18.00"><text x="0.00" y="0">2</text></g>
<g transform="translate(44.48 303.69) skewX(-12.0)" font-size="18.00"><text x="0.00" y="0">4</text></g>
<g transform="translate(44.48 254.01) skewX(-12.0)" font-size="18.00"><text x="0.00" y="0">6</text></g>
<g transform="translate(44.48 204.34) skewX(-12.0)" font-size="18.00"><text x="0.00" y="0">8</text></g>
<g transform="translate(34.47 154.66) skewX(-12.0)" font-size="18.00"><path transform="translate(0.00 0) scale(0.01800 -0.01800)" d="M359 0L271 0L271 505L102 505L102 568C214 582 247 600 289 709L359 709Z"/><text x="10.00" y="0">0</text></g>
<g transform="translate(34.47 104.98) skewX(-12.0)" font-size="18.00"><path transform="translate(0.00 0) scale(0.01800 -0.01800)" d="M359 0L271 0L271 505L102 505L102 568C214 582 247 600 289 709L359 709Z"/><text x="10.00" y="0">2</text></g>
<g transform="translate(34.47 55.30) skewX(-12.0)" font-size="18.00"><path transform="translate(0.00 0) scale(0.01800 -0.01800)" d="M359 0L271 0L271 505L102 505L102 568C214 582 247 600 289 709L359 709Z"/><text x="10.00" y="0">4</text></g>
<g transform="translate(414.98 403.05) skewX(-12.0)" font-size="18.00"><text x="0.00" y="0">0</text></g>
<g transform="translate(414.98 345.09) skewX(-12.0)" font-size="18.00"><text x="0.00" y="0">2</text></g>
<g transform="translate(414.98 287.13) skewX(-12.0)" font-size="18.00"><text x="0.00" y="0">4</text></g>
<g transform="translate(414.98 229.18) skewX(-12.0)" font-size="18.00"><text x="0.00" y="0">6</text></g>
<g transform="translate(414.98 171.22) skewX(-12.0)" font-size="18.00"><text x="0.00" y="0">8</text></g>
<g transform="translate(404.97 113.26) skewX(-12.0)" font-size="18.00"><path transform="translate(0.00 0) scale(0.01800 -0.01800)" d="M359 0L271 0L271 505L102 505L102 568C214 582 247 600 289 709L359 709Z"/><text x="10.00" y="0">0</text></g>
<g transform="translate(404.97 55.30) skewX(-12.0)" font-size="18.00"><path transform="translate(0.00 0) scale(0.01800 -0.01800)" d="M359 0L271 0L271 505L102 505L102 568C214 582 247 600 289 709L359 709Z"/><text x="10.00" y="0">2</text></g>
</g>
<rect x="533.80" y="2.80" width="201.00" height="30.50" fill="#fcfabc" stroke="#000" stroke-width="1.20"/>
<path d="M487.00 77.50H518.00" stroke="#ff0000" stroke-width="1.50" fill="none"/>
<path d="M487.00 98.40H518.00" stroke="#000" stroke-width="1.60" stroke-dasharray="7 4.3" fill="none"/>
<path d="M487.00 119.10H518.00" stroke="#0f8c0f" stroke-width="1.50" fill="none"/>
<g transform="translate(551.30 25.00)" font-size="21.60"><text x="0.00" y="0">NuFIT 3.0 (20</text><path transform="translate(132.81 0) scale(0.02160 -0.02160)" d="M359 0L271 0L271 505L102 505L102 568C214 582 247 600 289 709L359 709Z"/><text x="144.83" y="0">6)</text></g>
<g transform="translate(533.00 84.10)" font-size="17.40"><text x="0.00" y="0">GS98</text></g>
<g transform="translate(533.50 104.70)" font-size="17.40"><text x="0.00" y="0">AGSS09</text></g>
<g transform="translate(533.00 125.30)" font-size="17.40"><text x="0.00" y="0">KamLAND</text></g>
<g transform="translate(81.00 86.10)" font-size="19.60"><text x="0.00" y="0">θ</text></g>
<g transform="translate(92.50 93.80)" font-size="13.30"><path transform="translate(0.00 0) scale(0.01330 -0.01330)" d="M359 0L271 0L271 505L102 505L102 568C214 582 247 600 289 709L359 709Z"/><text x="7.39" y="0">3</text></g>
<g transform="translate(112.00 88.30)" font-size="19.60"><text x="0.00" y="0">=</text></g>
<g transform="translate(128.80 86.10)" font-size="19.60"><text x="0.00" y="0">8.5</text></g>
<g transform="translate(157.90 87.50)" font-size="19.60"><text x="0.00" y="0">°</text></g>
<g transform="translate(184.80 446.70)" font-size="19.60"><text x="0.00" y="0">sin</text></g>
<g transform="translate(209.70 434.70)" font-size="13.30"><text x="0.00" y="0">2</text></g>
<g transform="translate(216.80 446.70)" font-size="19.60"><text x="0.00" y="0">θ</text></g>
<g transform="translate(228.50 453.90)" font-size="13.30"><path transform="translate(0.00 0) scale(0.01330 -0.01330)" d="M359 0L271 0L271 505L102 505L102 568C214 582 247 600 289 709L359 709Z"/><text x="7.39" y="0">2</text></g>
<g><g transform="translate(518.30 446.50)" font-size="19.00"><text x="0.00" y="0">Δ</text></g><g transform="translate(530.30 446.50)" font-size="19.00"><text x="0.00" y="0">m</text></g><g transform="translate(546.10 434.50)" font-size="13.50"><text x="0.00" y="0">2</text></g><g transform="translate(546.10 454.10)" font-size="13.50"><text x="0.00" y="0">2</text><path transform="translate(7.50 0) scale(0.01350 -0.01350)" d="M359 0L271 0L271 505L102 505L102 568C214 582 247 600 289 709L359 709Z"/></g><g transform="translate(566.30 446.20)" font-size="20.50"><text x="0.00" y="0">[</text></g><g transform="translate(572.30 446.50)" font-size="19.00"><path transform="translate(0.00 0) scale(0.01900 -0.01900)" d="M359 0L271 0L271 505L102 505L102 568C214 582 247 600 289 709L359 709Z"/><text x="10.56" y="0">0</text></g><g transform="translate(593.00 434.60)" font-size="13.00"><text x="0.00" y="0">−5</text></g><g transform="translate(615.00 446.50)" font-size="19.00"><text x="0.00" y="0">eV</text></g><g transform="translate(639.00 434.50)" font-size="13.50"><text x="0.00" y="0">2</text></g><g transform="translate(646.00 446.20)" font-size="20.50"><text x="0.00" y="0">]</text></g></g>
<g transform="translate(23.60 288.60) rotate(-90) translate(-518.80 -446.50)"><g transform="translate(518.30 446.50)" font-size="19.00"><text x="0.00" y="0">Δ</text></g><g transform="translate(530.30 446.50)" font-size="19.00"><text x="0.00" y="0">m</text></g><g transform="translate(546.10 434.50)" font-size="13.50"><text x="0.00" y="0">2</text></g><g transform="translate(546.10 454.10)" font-size="13.50"><text x="0.00" y="0">2</text><path transform="translate(7.50 0) scale(0.01350 -0.01350)" d="M359 0L271 0L271 505L102 505L102 568C214 582 247 600 289 709L359 709Z"/></g><g transform="translate(566.30 446.20)" font-size="20.50"><text x="0.00" y="0">[</text></g><g transform="translate(572.30 446.50)" font-size="19.00"><path transform="translate(0.00 0) scale(0.01900 -0.01900)" d="M359 0L271 0L271 505L102 505L102 568C214 582 247 600 289 709L359 709Z"/><text x="10.56" y="0">0</text></g><g transform="translate(593.00 434.60)" font-size="13.00"><text x="0.00" y="0">−5</text></g><g transform="translate(615.00 446.50)" font-size="19.00"><text x="0.00" y="0">eV</text></g><g transform="translate(639.00 434.50)" font-size="13.50"><text x="0.00" y="0">2</text></g><g transform="translate(646.00 446.20)" font-size="20.50"><text x="0.00" y="0">]</text></g></g>
<g transform="translate(403.70 237.20) rotate(-90)"><g transform="translate(-0.50 0.00)" font-size="19.00"><text x="0.00" y="0">Δ</text></g><path d="M12.95 3.1L20.36 -9.72" stroke="#000" stroke-width="1.7" fill="none" stroke-linecap="butt"/><path d="M21.50 0.80C21.13 1.63 20.96 2.86 20.40 3.30C19.95 3.66 19.15 3.82 18.65 3.60C18.04 3.34 17.56 2.31 17.20 1.40C16.72 0.18 16.76 -1.64 16.40 -3.20C16.02 -4.87 15.52 -7.09 14.95 -8.30C14.60 -9.05 14.31 -9.79 13.80 -10.00C13.34 -10.20 12.50 -10.05 12.10 -9.70C11.63 -9.28 11.63 -8.17 11.40 -7.40" stroke="#000" stroke-width="1.3" fill="none" stroke-linecap="round"/><g transform="translate(22.10 -11.60)" font-size="13.50"><text x="0.00" y="0">2</text></g></g>
</svg></body></html>
